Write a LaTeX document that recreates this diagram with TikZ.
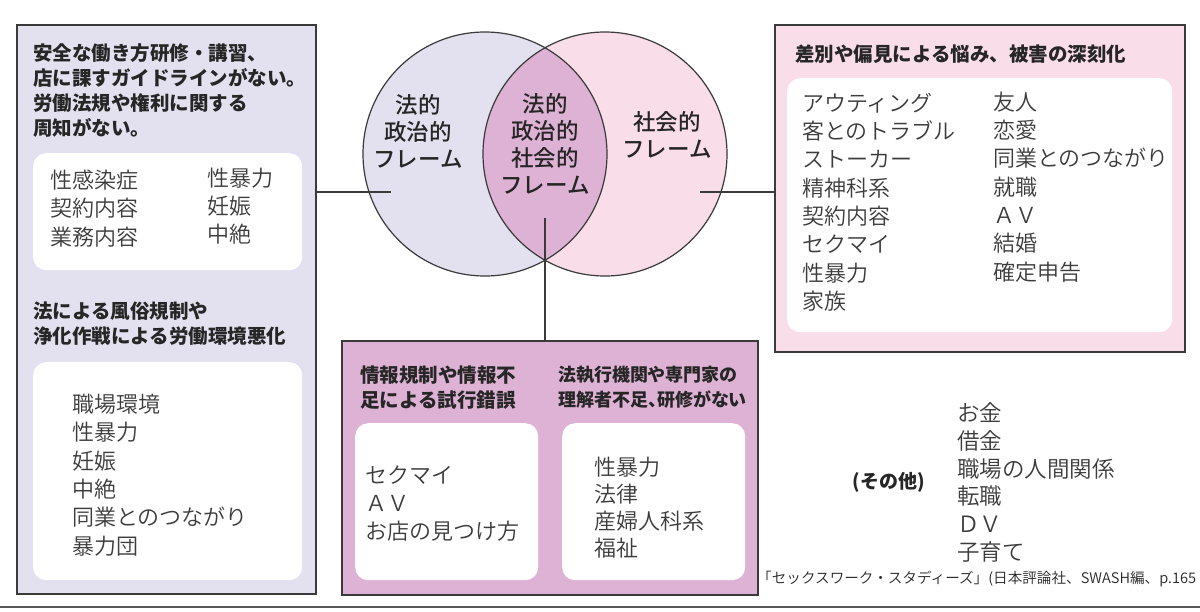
\documentclass[tikz,border=0pt]{standalone}
\usepackage{xcolor}
\usepackage{fontspec}
\setmainfont{Noto Sans CJK JP}
\newfontfamily\jpmedium{Noto Sans CJK JP Medium}
\newfontfamily\jplight{Noto Sans CJK JP DemiLight}
\usepackage{tikz}
\usetikzlibrary{positioning}

\definecolor{lavender}{HTML}{E3E1EF}
\definecolor{blush}{HTML}{F9DEEA}
\definecolor{mauve}{HTML}{DDB2D4}
\definecolor{frame}{HTML}{3A3A3A}
\definecolor{ink}{HTML}{262626}

\begin{document}
\begin{tikzpicture}[
        x=1pt, y=-1pt,
        panel/.style={rectangle, draw=frame, line width=1.3pt, anchor=north west, inner sep=0pt, outer sep=0pt},
        card/.style={rectangle, fill=white, rounded corners=13pt, anchor=north west, inner sep=0pt},
        head/.style={anchor=west, align=left, inner sep=0pt, text=ink, font=\fontsize{19.5}{25}\selectfont\bfseries},
        item/.style={anchor=west, align=left, inner sep=0pt, text=ink!90, font=\jplight\fontsize{22}{28.3}\selectfont},
        frametext/.style={align=center, inner sep=0pt, text=ink, font=\jpmedium\fontsize{22.5}{27}\selectfont},
        link/.style={draw=frame, line width=1.2pt}
    ]
        \useasboundingbox (0,0) rectangle (1200,611);
        \fill[white] (0,0) rectangle (1200,611);

        % venn
        \node[circle, fill=lavender, minimum size=244pt, inner sep=0pt] (legal) at (485,154) {};
        \node[circle, fill=blush, minimum size=244pt, inner sep=0pt] (social) at (605,154) {};
        \begin{scope}
            \clip (legal.center) circle[radius=122];
            \fill[mauve] (social.center) circle[radius=122];
        \end{scope}
        \draw[frame, line width=1.2pt] (legal.center) circle[radius=122];
        \draw[frame, line width=1.2pt] (social.center) circle[radius=122];

        \node[frametext] (legaltext) at (418,131.5) {法的\\政治的\\フレーム};
        \node[frametext] (bothtext) at (545,144) {法的\\政治的\\社会的\\フレーム};
        \node[frametext] (socialtext) at (667,135) {社会的\\フレーム};

        % left panel
        \node[panel, fill=lavender, minimum width=299pt, minimum height=569pt] (leftbox) at (17,25) {};
        \node[head] (lefthead) at (33,90.5) {安全な働き方研修・講習、\\店に課すガイドラインがない。\\労働法規や権利に関する\\周知がない。};
        \node[card, minimum width=269pt, minimum height=117pt] (leftcard) at (33,153) {};
        \node[item] (leftitemsa) at (50,208.5) {性感染症\\契約内容\\業務内容};
        \node[item] (leftitemsb) at (207,206) {性暴力\\妊娠\\中絶};
        \node[head] (lowerhead) at (33,324) {法による風俗規制や\\浄化作戦による労働環境悪化};
        \node[card, minimum width=269pt, minimum height=218pt] (lowercard) at (33,362) {};
        \node[item] (loweritems) at (72,475) {職場環境\\性暴力\\妊娠\\中絶\\同業とのつながり\\暴力団};

        % right panel
        \node[panel, fill=blush, minimum width=410pt, minimum height=327pt] (rightbox) at (775,25) {};
        \node[head] (righthead) at (795,54) {差別や偏見による悩み、被害の深刻化};
        \node[card, minimum width=385pt, minimum height=254pt] (rightcard) at (787,78) {};
        \node[item] (rightitemsa) at (802,202) {アウティング\\客とのトラブル\\ストーカー\\精神科系\\契約内容\\セクマイ\\性暴力\\家族};
        \node[item] (rightitemsb) at (993,187) {友人\\恋愛\\同業とのつながり\\就職\\ＡＶ\\結婚\\確定申告};

        % middle panel
        \node[panel, fill=mauve, minimum width=416pt, minimum height=254pt] (midbox) at (342,341) {};
        \node[head] (infohead) at (360,387.5) {情報規制や情報不\\足による試行錯誤};
        \node[head, font=\fontsize{18}{25}\selectfont\bfseries\addfontfeatures{RawFeature=+palt}] (lawhead) at (558,387.5) {法執行機関や専門家の\\理解者不足、研修がない};
        \node[card, minimum width=183pt, minimum height=157pt] (infocard) at (355,423) {};
        \node[card, minimum width=183pt, minimum height=157pt] (lawcard) at (562,423) {};
        \node[item] (infoitems) at (365,503.5) {セクマイ\\ＡＶ\\お店の見つけ方};
        \node[item, font=\jplight\fontsize{22}{27}\selectfont] (lawitems) at (594,507.5) {性暴力\\法律\\産婦人科系\\福祉};

        % others
        \node[item, font=\jplight\fontsize{22.5}{27.8}\selectfont] (otheritems) at (957,482.5) {お金\\借金\\職場の人間関係\\転職\\ＤＶ\\子育て};
        \node[inner sep=0pt, text=ink, font=\fontsize{19}{19}\selectfont\bfseries, left=32pt of otheritems] (other) {(その他)};

        % links
        \coordinate (lhook) at (391,192);
        \coordinate (rhook) at (700,192);
        \coordinate (mhook) at (545,218);
        \draw[link] (lhook -| leftbox.east) -- (lhook);
        \draw[link] (rhook) -- (rhook -| rightbox.west);
        \draw[link] (mhook) -- (mhook |- midbox.north);

        \node[anchor=west, inner sep=0pt, text=ink, font=\jplight\fontsize{14.6}{14.6}\selectfont] (source) at (757,579) {「セックスワーク・スタディーズ」(日本評論社、SWASH編、p.165};
        \draw[frame!85, line width=2pt] (0,607) -- (1200,607);
    \end{tikzpicture}
\end{document}
